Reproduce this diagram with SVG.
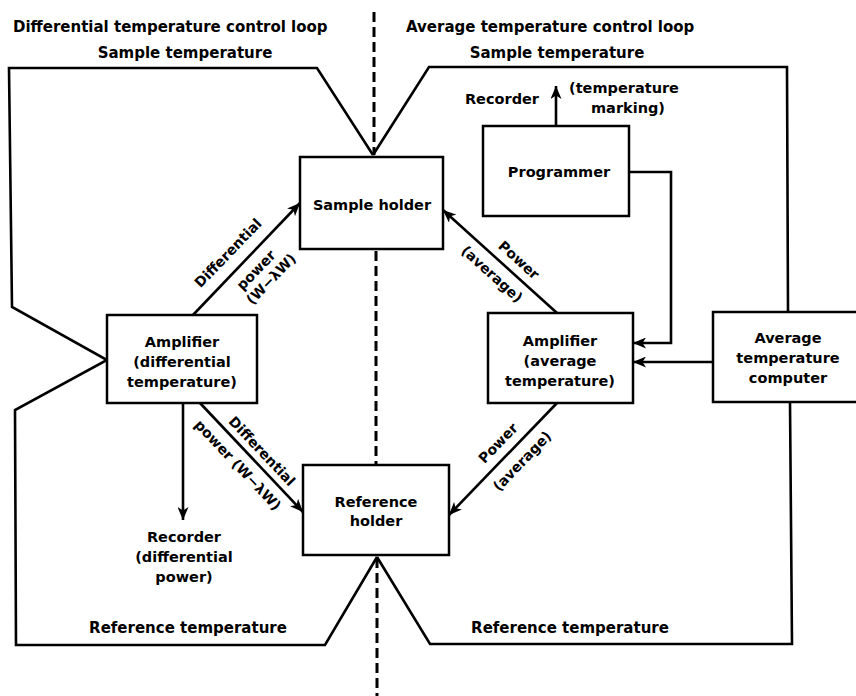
<svg xmlns="http://www.w3.org/2000/svg" width="856" height="696" viewBox="0 0 856 696">
<style>
text{font-family:"DejaVu Sans","Liberation Sans",sans-serif;font-weight:bold;fill:#000;}
.t{font-size:15px;text-anchor:middle;}
.b{font-size:14.5px;text-anchor:middle;}
.r{font-size:14px;text-anchor:middle;}
.box{fill:#fff;stroke:#000;stroke-width:2.5;}
.ln{fill:none;stroke:#000;stroke-width:2.6;stroke-linejoin:miter;}
.dash{fill:none;stroke:#000;stroke-width:3;stroke-dasharray:10 5;}
</style>
<defs>
<marker id="ah" markerUnits="userSpaceOnUse" markerWidth="15" markerHeight="11" refX="13" refY="5.5" orient="auto">
<path d="M0,0 L13,5.5 L0,11 L3.5,5.5 z" fill="#000"/>
</marker>
</defs>
<rect width="856" height="696" fill="#fff"/>

<g id="divider">
<line class="dash" x1="374" y1="12" x2="374" y2="155"/>
<line class="dash" x1="376" y1="251" x2="376" y2="464"/>
<line class="dash" x1="377" y1="558" x2="377" y2="696"/>
</g>

<g id="connectors">
<polyline class="ln" points="373,155 317,68 9,68 12,307 107,360 15,410 16,645 325,645 377,557"/>
<polyline class="ln" points="373,155 429,67 787,67 788,312"/>
<polyline class="ln" points="790,402 792,644 430,644 377,557"/>
<line class="ln" x1="193" y1="315" x2="300" y2="203" marker-end="url(#ah)"/>
<line class="ln" x1="200" y1="403" x2="303" y2="512" marker-end="url(#ah)"/>
<line class="ln" x1="183" y1="403" x2="183" y2="520" marker-end="url(#ah)"/>
<line class="ln" x1="557" y1="313" x2="443" y2="210" marker-end="url(#ah)"/>
<line class="ln" x1="557" y1="403" x2="449" y2="515" marker-end="url(#ah)"/>
<line class="ln" x1="556" y1="126" x2="556" y2="86" marker-end="url(#ah)"/>
<polyline class="ln" points="629,172 671,172 671,343 633,343" marker-end="url(#ah)"/>
<line class="ln" x1="713" y1="362" x2="633" y2="362" marker-end="url(#ah)"/>
</g>

<g id="sample-holder">
<rect class="box" x="300" y="157" width="143" height="92"/>
<text class="b" x="372" y="210">Sample holder</text>
</g>
<g id="reference-holder">
<rect class="box" x="303" y="465" width="146" height="90"/>
<text class="b" x="376" y="507">Reference</text>
<text class="b" x="376" y="526">holder</text>
</g>
<g id="amp-diff">
<rect class="box" x="107" y="315" width="150" height="88"/>
<text class="b" x="182" y="347">Amplifier</text>
<text class="b" x="182" y="367">(differential</text>
<text class="b" x="182" y="387">temperature)</text>
</g>
<g id="amp-avg">
<rect class="box" x="488" y="313" width="145" height="90"/>
<text class="b" x="560" y="346">Amplifier</text>
<text class="b" x="560" y="366">(average</text>
<text class="b" x="560" y="386">temperature)</text>
</g>
<g id="programmer">
<rect class="box" x="483" y="126" width="146" height="90"/>
<text class="b" x="559" y="177">Programmer</text>
</g>
<g id="computer">
<rect class="box" x="713" y="312" width="150" height="90"/>
<text class="b" x="788" y="343">Average</text>
<text class="b" x="788" y="363">temperature</text>
<text class="b" x="788" y="383">computer</text>
</g>
<g id="recorder-diff">
<text class="b" x="184" y="542">Recorder</text>
<text class="b" x="184" y="562">(differential</text>
<text class="b" x="184" y="582">power)</text>
</g>
<g id="recorder-temp">
<text class="b" x="502" y="104">Recorder</text>
<text class="b" x="624" y="93">(temperature</text>
<text class="b" x="628" y="113">marking)</text>
</g>

<g id="labels">
<text class="t" x="13" y="32" style="text-anchor:start">Differential temperature control loop</text>
<text class="t" x="406" y="32" style="text-anchor:start">Average temperature control loop</text>
<text class="t" x="185" y="58">Sample temperature</text>
<text class="t" x="557" y="58">Sample temperature</text>
<text class="t" x="188" y="633">Reference temperature</text>
<text class="t" x="570" y="633">Reference temperature</text>
<text class="r" y="5" transform="translate(228,253) rotate(-46)">Differential</text>
<text class="r" y="5" transform="translate(256,270) rotate(-46)">power</text>
<text class="r" y="5" transform="translate(271,279) rotate(-46)">(W−λW)</text>
<text class="r" y="5" transform="translate(262,451) rotate(46.6)">Differential</text>
<text class="r" y="5" transform="translate(238,465) rotate(46.6)">power (W−λW)</text>
<text class="r" y="5" transform="translate(519,260) rotate(42)">Power</text>
<text class="r" y="5" transform="translate(492,274) rotate(42)">(average)</text>
<text class="r" y="5" transform="translate(498,443) rotate(-46)">Power</text>
<text class="r" y="5" transform="translate(522,461) rotate(-46)">(average)</text>
</g>
</svg>
